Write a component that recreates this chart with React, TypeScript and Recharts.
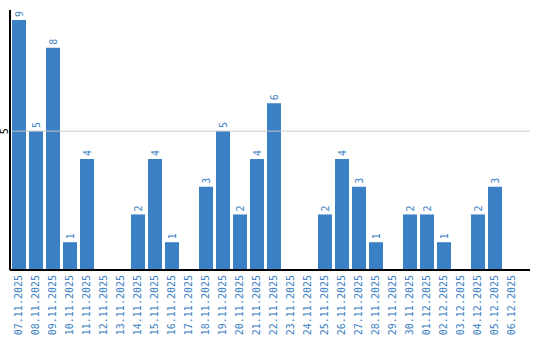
import { Bar, BarChart, LabelList, ReferenceLine, XAxis, YAxis } from "recharts";

const DATES = [
	"07.11.2025", "08.11.2025", "09.11.2025", "10.11.2025", "11.11.2025",
	"12.11.2025", "13.11.2025", "14.11.2025", "15.11.2025", "16.11.2025",
	"17.11.2025", "18.11.2025", "19.11.2025", "20.11.2025", "21.11.2025",
	"22.11.2025", "23.11.2025", "24.11.2025", "25.11.2025", "26.11.2025",
	"27.11.2025", "28.11.2025", "29.11.2025", "30.11.2025", "01.12.2025",
	"02.12.2025", "03.12.2025", "04.12.2025", "05.12.2025", "06.12.2025",
];

const COUNTS = [
	9, 5, 8, 1, 4, 0, 0, 2, 4, 1,
	0, 3, 5, 2, 4, 6, 0, 0, 2, 4,
	3, 1, 0, 2, 2, 1, 0, 2, 3, 0,
];

const Y_TICKS = [5];

const BLUE = "#3b7fc4";
const FONT = "'DejaVu Sans Mono', monospace";

const data = DATES.map((date, i) => ({ date, count: COUNTS[i] }));

function DateTick({ x, y, payload }: any) {
	return (
		<text
			transform={`translate(${x},${y - 3}) rotate(-90)`}
			textAnchor="end"
			dominantBaseline="central"
			fontFamily={FONT}
			fontSize={10}
			fill={BLUE}
		>
			{payload.value}
		</text>
	);
}

function CountTick({ y, payload }: any) {
	return (
		<text
			transform={`translate(4,${y}) rotate(-90)`}
			textAnchor="middle"
			dominantBaseline="central"
			fontFamily={FONT}
			fontSize={10}
			fill="#000"
		>
			{payload.value}
		</text>
	);
}

function ValueLabel({ x, y, width, value }: any) {
	if (!value) return null;
	return (
		<text
			transform={`translate(${x + width / 2},${y - 3}) rotate(-90)`}
			textAnchor="start"
			dominantBaseline="central"
			fontFamily={FONT}
			fontSize={10}
			fill={BLUE}
		>
			{value}
		</text>
	);
}

export default function App() {
	return (
		<div style={{ position: "absolute", left: 0, top: 0, background: "#fff" }}>
			<BarChart
				width={540}
				height={340}
				data={data}
				margin={{ top: 10, right: 10, left: 0, bottom: 0 }}
				barSize={14}
			>
				<ReferenceLine y={5} stroke="#c8c8c8" />
				<XAxis
					dataKey="date"
					interval={0}
					height={70}
					tick={<DateTick />}
					tickLine={false}
					axisLine={{ stroke: "#000", strokeWidth: 2 }}
					padding={{ left: 0, right: 10 }}
				/>
				<YAxis
					width={10}
					domain={[0, 9.36]}
					ticks={Y_TICKS}
					tick={<CountTick />}
					tickLine={false}
					axisLine={{ stroke: "#000", strokeWidth: 2 }}
				/>
				<Bar dataKey="count" fill={BLUE} isAnimationActive={false}>
					<LabelList dataKey="count" content={<ValueLabel />} />
				</Bar>
			</BarChart>
		</div>
	);
}
